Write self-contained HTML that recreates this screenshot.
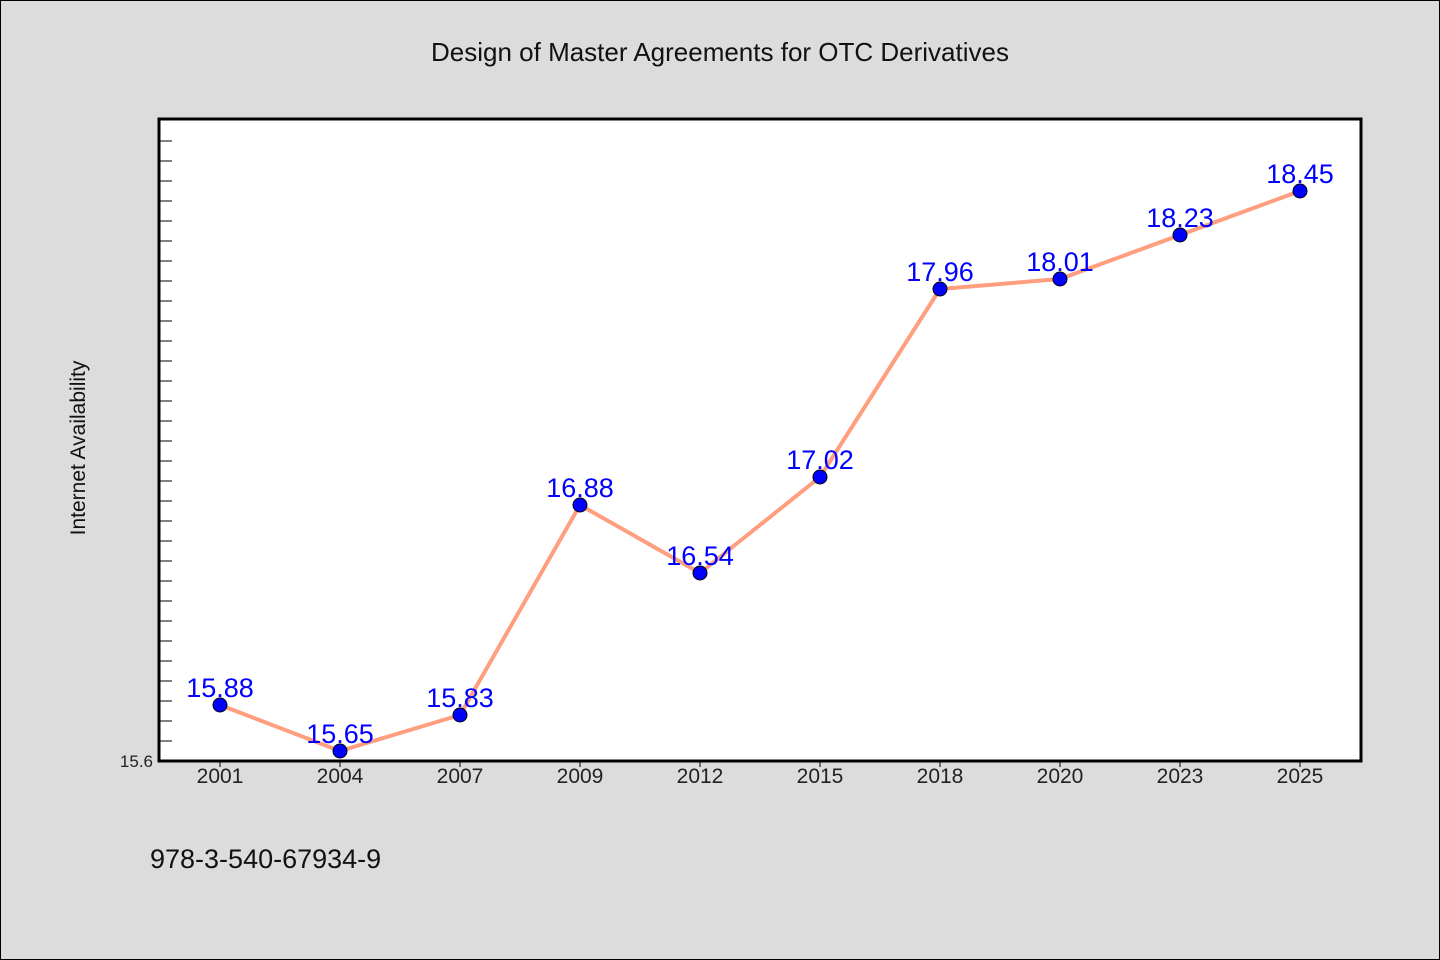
<!DOCTYPE html>
<html><head><meta charset="utf-8"><style>
body{margin:0;background:#dcdcdc;}
svg{display:block;font-family:"WenQuanYi Zen Hei","Liberation Sans",sans-serif;}
</style></head><body>
<svg width="1440" height="960" id="c">
<rect x="0.5" y="0.5" width="1439" height="959" fill="#dcdcdc" stroke="#000"/>
<text x="720" y="61" text-anchor="middle" font-size="26" fill="#111">Design of Master Agreements for OTC Derivatives</text>
<rect x="159" y="119" width="1202" height="642" fill="#fff" stroke="#000" stroke-width="3"/>
<text transform="translate(85,448) rotate(-90)" text-anchor="middle" font-size="21" fill="#111">Internet Availability</text>
<text x="150" y="868" font-size="27" fill="#111">978-3-540-67934-9</text>
<g id="ticks"></g><g id="marks"></g>
</svg>
<script>
const categories=["2001","2004","2007","2009","2012","2015","2018","2020","2023","2025"];
const values=[15.88,15.65,15.83,16.88,16.54,17.02,17.96,18.01,18.23,18.45];
const yTickLabels=["15.6"];
const ns="http://www.w3.org/2000/svg";
const X0=220,DX=120,Y0=761,PPU=200,yMin=15.6;
function xs(i){return X0+i*DX;}
function ys(v){return Y0-(v-yMin)*PPU;}
function mk(t,a,p){const e=document.createElementNS(ns,t);for(const k in a)e.setAttribute(k,a[k]);p.appendChild(e);return e;}
const tk=document.getElementById('ticks'),mg=document.getElementById('marks');
for(let v=yMin+0.1;v<18.8;v+=0.1){const l=mk('line',{x1:160,x2:172,y1:ys(v),y2:ys(v),stroke:'#000','stroke-width':1},tk);

}
yTickLabels.forEach(s=>{const t=mk('text',{x:153,y:ys(+s)+6,'text-anchor':'end','font-size':17,fill:'#222'},tk);t.textContent=s;

});
categories.forEach((c,i)=>{const l=mk('line',{x1:xs(i),x2:xs(i),y1:762,y2:767,stroke:'#000'},tk);


const t=mk('text',{x:xs(i),y:783,'text-anchor':'middle','font-size':21,fill:'#222'},tk);t.textContent=c;

});
const pl=mk('polyline',{points:values.map((v,i)=>xs(i)+','+ys(v)).join(' '),fill:'none',stroke:'#ff9f7f','stroke-width':4,'stroke-linejoin':'round'},mg);


values.forEach((v,i)=>{const c=mk('circle',{cx:xs(i),cy:ys(v),r:7,fill:'#0000ff',stroke:'#000','stroke-width':1},mg);


const t=mk('text',{x:xs(i),y:ys(v)-8,'text-anchor':'middle','font-size':27,fill:'#0000ff'},mg);t.textContent=v.toFixed(2);

});
</script>
</body></html>
